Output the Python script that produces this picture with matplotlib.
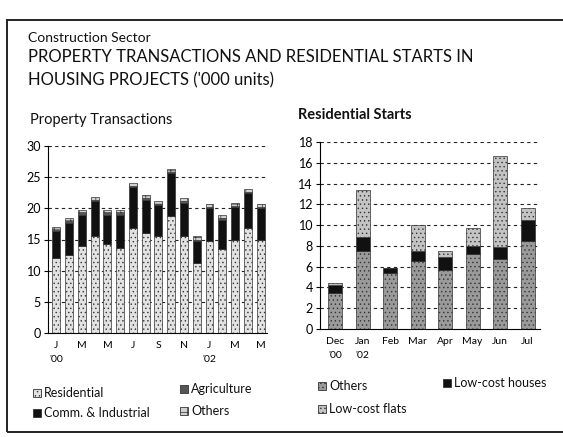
import matplotlib
matplotlib.use("Agg")
import matplotlib.pyplot as plt
from matplotlib.patches import Rectangle
import numpy as np

plt.rcParams['font.family'] = ['Lato', 'DejaVu Sans']
plt.rcParams['hatch.linewidth'] = 0.5

# Property transactions ('000 units), Jan '00 .. May '02 as labelled
pt_ticks = ['J\n\'00', 'M', 'M', 'J', 'S', 'N', 'J\n\'02', 'M', 'M']
residential = [12.1, 12.5, 13.9, 15.6, 14.3, 13.7, 16.9, 16.0, 15.5,
               18.8, 15.6, 11.2, 14.7, 13.5, 15.0, 16.8, 14.9]
comm_ind = [4.2, 5.2, 5.1, 5.5, 4.7, 5.3, 6.5, 5.4, 5.0,
            6.8, 5.3, 3.6, 5.3, 4.7, 5.2, 5.6, 5.1]
agriculture = [0.2] * 17
pt_others = [0.5] * 17

# Residential starts ('000 units)
rs_months = ['Dec\n\'00', 'Jan\n\'02', 'Feb', 'Mar', 'Apr', 'May', 'Jun', 'Jul']
rs_others = [3.5, 7.5, 5.4, 6.5, 5.7, 7.2, 6.75, 8.5]
lc_houses = [0.7, 1.4, 0.5, 1.0, 1.2, 0.8, 1.1, 1.95]
lc_flats = [0.2, 4.5, 0.0, 2.5, 0.6, 1.75, 8.8, 1.15]

W, H = 563, 437
fig = plt.figure(figsize=(W / 100, H / 100), dpi=100)


def fx(x):
    return x / W


def fy(y):
    return 1 - y / H


def box(x0, y0, x1, y1):
    return [fx(x0), fy(y1), fx(x1) - fx(x0), fy(y0) - fy(y1)]


# outer frame
fig.add_artist(Rectangle((fx(7), fy(432)), fx(570) - fx(7), fy(20) - fy(432),
                         transform=fig.transFigure, fill=False, lw=1.4,
                         ec='#222222'))

fig.text(fx(28), fy(38), 'Construction Sector', fontsize=10, va='center',
         color='#111111')
fig.text(fx(28), fy(57), 'PROPERTY TRANSACTIONS AND RESIDENTIAL STARTS IN',
         fontsize=12, va='center', color='#111111')
fig.text(fx(28), fy(80), 'HOUSING PROJECTS (\'000 units)', fontsize=12,
         va='center', color='#111111')
fig.text(fx(30), fy(120), 'Property Transactions', fontsize=10.5,
         va='center', color='#111111')
fig.text(fx(298), fy(115), 'Residential Starts', fontsize=10.5, va='center',
         fontweight='bold', color='#111111')


def style_axes(ax, top, step):
    ax.set_ylim(0, top)
    ax.set_yticks(np.arange(0, top + 1, step))
    for v in np.arange(step, top + 1, step):
        ax.axhline(v, color='#222222', lw=0.8, ls=(0, (3, 3)), zorder=0)
    for s in ['top', 'right']:
        ax.spines[s].set_visible(False)
    ax.spines['left'].set_linewidth(0.8)
    ax.spines['bottom'].set_linewidth(0.8)
    ax.tick_params(axis='y', length=3, width=0.8, labelsize=9, pad=2)
    ax.tick_params(axis='x', length=0, labelsize=7.5, pad=6)


# left chart
ax1 = fig.add_axes(box(48, 146, 267, 333))
x1 = np.arange(len(residential))
b = np.zeros(len(x1))
for vals, fc, hatch, lab in [
        (residential, '#e2e2e2', '....', 'Residential'),
        (comm_ind, '#111111', None, 'Comm. & Industrial'),
        (agriculture, '#555555', None, 'Agriculture'),
        (pt_others, '#d0d0d0', '++', 'Others')]:
    ax1.bar(x1, vals, 0.62, bottom=b, color=fc, edgecolor='#333333',
            linewidth=0.5, hatch=hatch, label=lab, zorder=2)
    b += np.array(vals)
style_axes(ax1, 30, 5)
ax1.set_xlim(-0.65, 16.5)
ax1.set_xticks(x1[::2])
ax1.set_xticklabels(pt_ticks, linespacing=1.6, va='top')

# right chart
ax2 = fig.add_axes(box(320, 142, 540, 329))
x2 = np.arange(len(rs_months))
b = np.zeros(len(x2))
for vals, fc, hatch, lab in [
        (rs_others, '#9a9a9a', '....', 'Others'),
        (lc_houses, '#111111', None, 'Low-cost houses'),
        (lc_flats, '#c4c4c4', '....', 'Low-cost flats')]:
    ax2.bar(x2, vals, 0.5, bottom=b, color=fc, edgecolor='#333333',
            linewidth=0.5, hatch=hatch, label=lab, zorder=2)
    b += np.array(vals)
style_axes(ax2, 18, 2)
ax2.set_xlim(-0.55, 7.45)
ax2.set_xticks(x2)
ax2.set_xticklabels(rs_months, linespacing=1.6, va='top')

# legends
h1, l1 = ax1.get_legend_handles_labels()
h2, l2 = ax2.get_legend_handles_labels()
legend_spots = [
    (h1[0], l1[0], 33, 393), (h1[1], l1[1], 33, 413),
    (h1[2], l1[2], 180, 389), (h1[3], l1[3], 180, 411),
    (h2[0], l2[0], 318, 386), (h2[2], l2[2], 318, 409),
    (h2[1], l2[1], 443, 383)]
for h, lab, x, y in legend_spots:
    patch = h[0]
    fig.add_artist(Rectangle((fx(x), fy(y + 4)), fx(8), 8 / H,
                             transform=fig.transFigure,
                             facecolor=patch.get_facecolor(),
                             edgecolor='#333333', lw=0.6,
                             hatch=patch.get_hatch()))
    fig.text(fx(x + 11), fy(y), lab, fontsize=9, va='center',
             color='#111111')

fig.savefig('out.png', dpi=100)
